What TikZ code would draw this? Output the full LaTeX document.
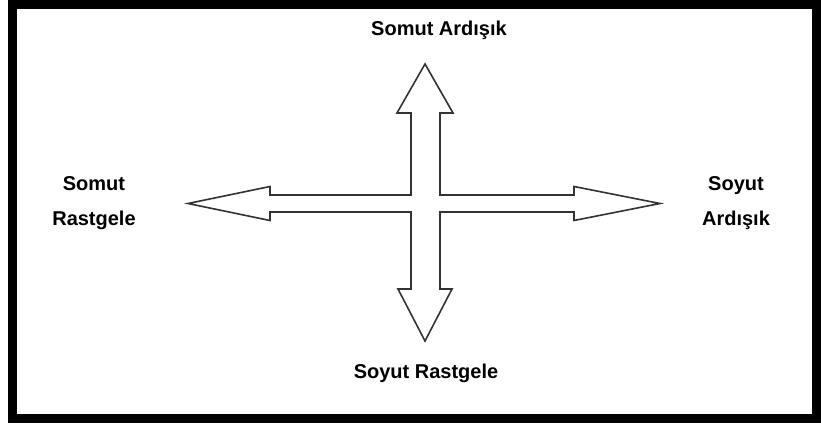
\documentclass[tikz,border=0pt]{standalone}
\usepackage{fontspec}
\setmainfont{Liberation Sans}
\usepackage{tikz}
\definecolor{arrowcolor}{HTML}{333333}

\begin{document}
\begin{tikzpicture}[
    x=1pt, y=-1pt,
    label/.style={font=\fontsize{20}{35}\selectfont\bfseries,
                  align=center, inner sep=0pt},
    blockarrow/.style={draw=arrowcolor, line width=1.6pt, line join=miter, fill=white},
    frame/.style={draw=black, line width=9pt}
]
\useasboundingbox (0,0) rectangle (821,425);
\draw[frame] (12.5,5) rectangle (816.5,418.5);

\coordinate (merkez) at (425.5,203.5);

% cross of block arrows
\draw[blockarrow] (425,64) -- (453,113) -- (440,113) -- (440,195)
    -- (574,195) -- (574,186.5) -- (660,203.5) -- (574,220.5) -- (574,212)
    -- (440,212) -- (440,289) -- (452,289) -- (425,341) -- (398,289)
    -- (411,289) -- (411,212) -- (270,212) -- (270,220.5) -- (188,203.5)
    -- (270,186.5) -- (270,195) -- (411,195) -- (411,113) -- (397,113) -- cycle;

\node[label, anchor=base] (somutardisik) at (439,36) {Somut Ardışık};
\node[label] (somutrastgele) at (94,203.5) {Somut\\Rastgele};
\node[label] (soyutardisik) at (736,203.5) {Soyut\\Ardışık};
\node[label, anchor=base] (soyutrastgele) at (426,378) {Soyut Rastgele};
\end{tikzpicture}
\end{document}
